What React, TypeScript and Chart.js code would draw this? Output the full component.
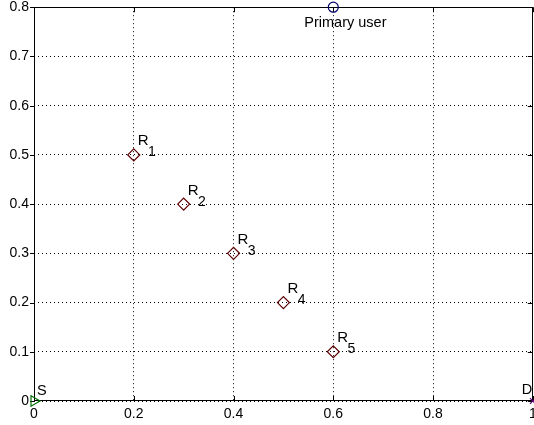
import React, { useEffect, useRef } from "react";
import { Chart, registerables } from "chart.js";

Chart.register(...registerables);

// ---- data ----
const relayX = [0.2, 0.3, 0.4, 0.5, 0.6];
const relayY = [0.5, 0.4, 0.3, 0.2, 0.1];
const relayIndex = ["1", "2", "3", "4", "5"];
const sourcePoint = [0, 0];
const destPoint = [1, 0];
const primaryPoint = [0.6, 0.8];
const sourceLabel = "S";
const destLabel = "D";
const primaryLabel = "Primary user";
const xTickValues = [0, 0.2, 0.4, 0.6, 0.8, 1];
const yTickValues = [0, 0.1, 0.2, 0.3, 0.4, 0.5, 0.6, 0.7, 0.8];

const FONT = "'Liberation Sans', Arial, Helvetica, sans-serif";

const annotatePlugin = {
  id: "annotate",
  beforeDatasetsDraw(chart: any) {
    const { ctx, chartArea, scales } = chart;
    const xs = scales.x;
    const ys = scales.y;
    ctx.save();
    ctx.strokeStyle = "#000";
    ctx.lineWidth = 1;
    ctx.setLineDash([]);
    ctx.strokeRect(
      Math.round(chartArea.left) + 0.5,
      Math.round(chartArea.top) + 0.5,
      Math.round(chartArea.right - chartArea.left) - 1,
      Math.round(chartArea.bottom - chartArea.top) - 1
    );
    ctx.beginPath();
    xTickValues.forEach((v) => {
      const px = Math.round(xs.getPixelForValue(v)) + 0.5;
      ctx.moveTo(px, chartArea.bottom);
      ctx.lineTo(px, chartArea.bottom - 5);
      ctx.moveTo(px, chartArea.top);
      ctx.lineTo(px, chartArea.top + 5);
    });
    yTickValues.forEach((v) => {
      const py = Math.round(ys.getPixelForValue(v)) + 0.5;
      ctx.moveTo(chartArea.left + 1, py);
      ctx.lineTo(chartArea.left - 4, py);
      ctx.moveTo(chartArea.right, py);
      ctx.lineTo(chartArea.right - 5, py);
    });
    ctx.stroke();
    ctx.restore();
  },
  afterDatasetsDraw(chart: any) {
    const { ctx, scales } = chart;
    const xs = scales.x;
    const ys = scales.y;
    ctx.save();
    ctx.fillStyle = "#000";
    ctx.textBaseline = "alphabetic";
    ctx.textAlign = "left";
    relayX.forEach((x, i) => {
      const px = xs.getPixelForValue(x);
      const py = ys.getPixelForValue(relayY[i]);
      ctx.font = `15px ${FONT}`;
      const rx = px + 4;
      ctx.fillText("R", rx, py - 9.5);
      const w = ctx.measureText("R").width;
      ctx.font = `14px ${FONT}`;
      ctx.fillText(relayIndex[i], rx + w - 0.5, py + 1.5);
    });
    ctx.font = `14.5px ${FONT}`;
    {
      const px = xs.getPixelForValue(sourcePoint[0]);
      const py = ys.getPixelForValue(sourcePoint[1]);
      ctx.fillText(sourceLabel, px + 3, py - 6);
    }
    {
      const px = xs.getPixelForValue(destPoint[0]);
      const py = ys.getPixelForValue(destPoint[1]);
      ctx.fillText(destLabel, px - 11, py - 7);
    }
    {
      const px = xs.getPixelForValue(primaryPoint[0]);
      const py = ys.getPixelForValue(primaryPoint[1]);
      ctx.font = `14.5px ${FONT}`;
      ctx.fillText(primaryLabel, px - 29, py + 20);
    }
    ctx.restore();
  },
};

export default function App() {
  const ref = useRef<HTMLCanvasElement | null>(null);
  useEffect(() => {
    if (!ref.current) return;
    const chart = new Chart(ref.current, {
      type: "scatter",
      data: {
        datasets: [
          {
            label: "relays",
            data: relayX.map((x, i) => ({ x, y: relayY[i] })),
            pointStyle: "rectRot",
            pointRadius: 6,
            borderColor: "#5c0000",
            backgroundColor: "rgba(0,0,0,0)",
            borderWidth: 1.2,
            clip: false,
          },
          {
            label: "source",
            data: [{ x: sourcePoint[0], y: sourcePoint[1] }],
            pointStyle: "triangle",
            rotation: 90,
            pointRadius: 6,
            borderColor: "#007000",
            backgroundColor: "rgba(0,0,0,0)",
            borderWidth: 1.2,
            clip: false,
          },
          {
            label: "dest",
            data: [{ x: destPoint[0], y: destPoint[1] }],
            pointStyle: "crossRot",
            pointRadius: 4,
            borderColor: "#5a0070",
            backgroundColor: "rgba(0,0,0,0)",
            borderWidth: 1.2,
            clip: false,
          },
          {
            label: "primary",
            data: [{ x: primaryPoint[0], y: primaryPoint[1] }],
            pointStyle: "circle",
            pointRadius: 5,
            borderColor: "#00006a",
            backgroundColor: "rgba(0,0,0,0)",
            borderWidth: 1.2,
            clip: false,
          },
        ] as any,
      },
      options: {
        animation: false,
        responsive: false,
        devicePixelRatio: 1,
        layout: { padding: { top: 7, right: 7, left: 0, bottom: 0 } },
        plugins: {
          legend: { display: false },
          tooltip: { enabled: false },
        },
        scales: {
          x: {
            type: "linear",
            min: 0,
            max: 1,
            afterBuildTicks: (s: any) => {
              s.ticks = xTickValues.map((v) => ({ value: v }));
            },
            afterFit: (s: any) => {
              s.height = 24;
              s.paddingLeft = 0;
              s.paddingRight = 0;
            },
            ticks: {
              padding: 5,
              color: "#000",
              font: { family: FONT, size: 14 },
              maxRotation: 0,
              autoSkip: false,
              callback: (v: any) => String(Number(v)),
            },
            grid: {
              color: "#000",
              lineWidth: 1,
              drawTicks: false,
            },
            border: { display: false, dash: [1, 3] },
          },
          y: {
            type: "linear",
            min: 0,
            max: 0.8,
            afterBuildTicks: (s: any) => {
              s.ticks = yTickValues.map((v) => ({ value: v }));
            },
            afterFit: (s: any) => {
              s.width = 34;
              s.paddingTop = 0;
              s.paddingBottom = 0;
            },
            ticks: {
              padding: 5,
              color: "#000",
              font: { family: FONT, size: 14 },
              autoSkip: false,
              callback: (v: any) => String(Number(v)),
            },
            grid: {
              color: "#000",
              lineWidth: 1,
              drawTicks: false,
            },
            border: { display: false, dash: [1, 3] },
          },
        },
      },
      plugins: [annotatePlugin],
    });
    return () => chart.destroy();
  }, []);
  return (
    <div
      style={{
        position: "absolute",
        left: 0,
        top: 0,
        width: 534,
        height: 425,
        overflow: "hidden",
        background: "#fff",
      }}
    >
      <canvas ref={ref} width={540} height={425} style={{ display: "block" }} />
    </div>
  );
}
